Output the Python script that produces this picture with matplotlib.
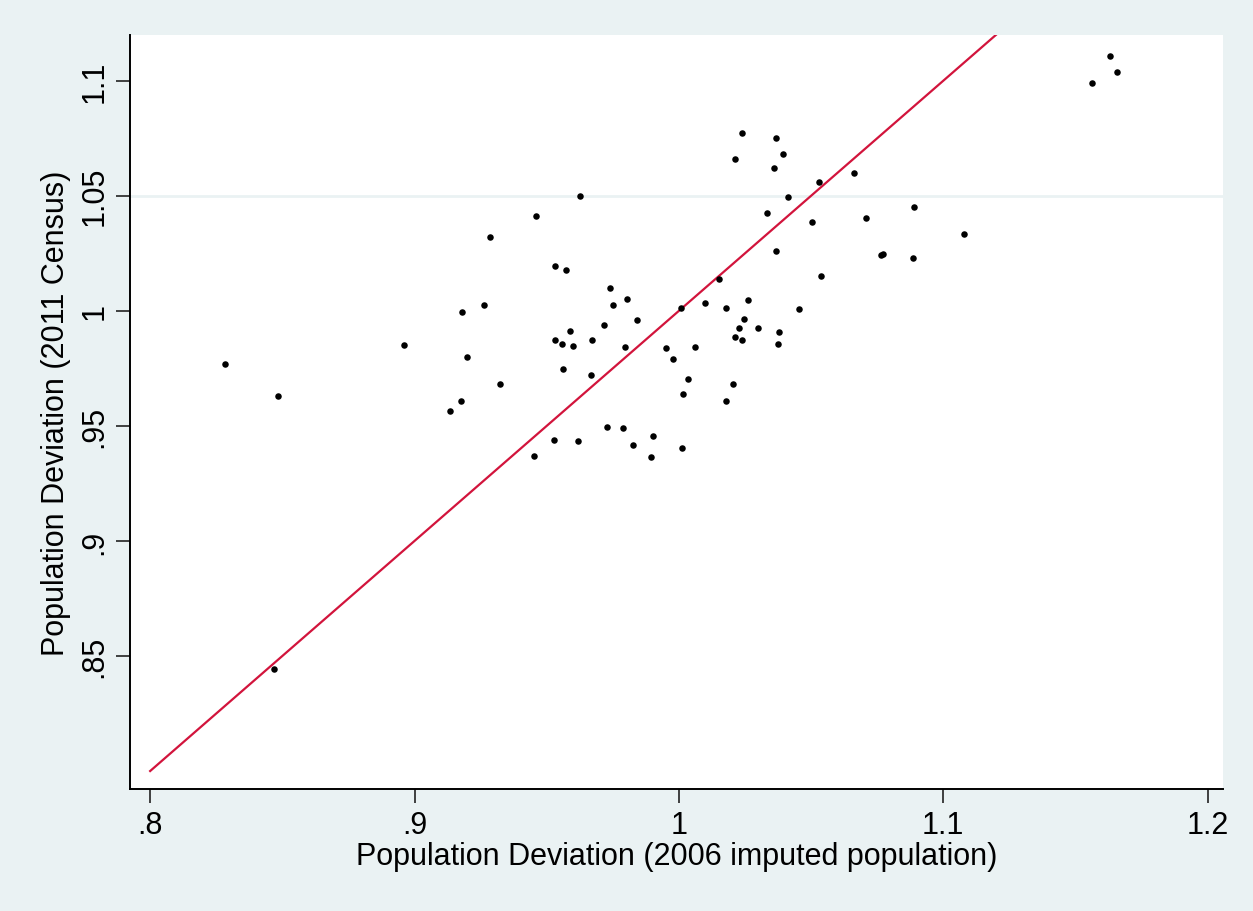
import matplotlib.pyplot as plt

# population deviation, 2006 imputed (x) vs 2011 census (y)
dev_2006 = [
    0.8284, 0.8485, 0.847, 0.8962, 0.918, 0.9264, 0.9287, 0.9458, 0.920,
    0.9323, 0.9176, 0.9134, 0.9453,
    1.024, 1.0367, 1.0395, 1.0214, 1.036, 1.0663, 1.053, 0.9626, 1.0414,
    1.089, 1.0335, 1.0708, 1.0503, 1.0772, 1.0764, 1.0369, 1.0885, 0.953,
    0.9574, 1.0539, 1.0153, 0.974, 0.9804, 0.975, 1.0262, 1.010, 1.0009,
    1.018, 1.0454, 0.984, 0.9716, 1.0246, 1.0228, 1.030, 0.9587, 1.0378,
    0.953, 0.9558, 0.9598, 0.9671, 1.0212, 1.0237, 1.0375, 0.9796, 0.9953,
    1.006,
    0.9976, 0.9561, 0.9667, 1.0035, 1.0205, 1.0016, 1.018, 0.9729, 0.9789,
    0.9526, 0.9618, 0.9903, 0.9827, 0.9893, 1.0013,
    1.163, 1.1656, 1.1561, 1.108,
]
dev_2011 = [
    0.9768, 0.9629, 0.8443, 0.985, 0.9993, 1.0025, 1.0319, 1.0414, 0.980,
    0.9684, 0.9607, 0.9564, 0.9368,
    1.0775, 1.0752, 1.068, 1.0662, 1.062, 1.060, 1.0558, 1.0501, 1.0497,
    1.045, 1.0426, 1.0403, 1.0386, 1.0248, 1.0241, 1.0258, 1.0229, 1.0197,
    1.0178, 1.0152, 1.014, 1.0101, 1.0051, 1.0025, 1.0047, 1.0033, 1.0012,
    1.0014, 1.0006, 0.9961, 0.9939, 0.9964, 0.9927, 0.9927, 0.9912, 0.9907,
    0.9873, 0.9858, 0.9847, 0.9874, 0.9888, 0.9873, 0.9857, 0.9843, 0.9839,
    0.9843,
    0.9791, 0.9749, 0.972, 0.9703, 0.968, 0.9639, 0.9607, 0.9494, 0.9491,
    0.9439, 0.9436, 0.9455, 0.9417, 0.9364, 0.9404,
    1.1109, 1.1038, 1.099, 1.0333,
]

x_ticks = [0.8, 0.9, 1.0, 1.1, 1.2]
x_labels = ['.8', '.9', '1', '1.1', '1.2']
y_ticks = [0.85, 0.9, 0.95, 1.0, 1.05, 1.1]
y_labels = ['.85', '.9', '.95', '1', '1.05', '1.1']
line_range = [0.8, 1.2]

plt.rcParams['font.family'] = ['Liberation Sans', 'DejaVu Sans']

fig = plt.figure(figsize=(12.53, 9.12), dpi=100, facecolor='#EAF2F3')
ax = fig.add_axes([0.1038, 0.1338, 0.872, 0.827])
ax.set_facecolor('white')

ax.axhline(1.05, color='#EAF2F3', lw=2, zorder=0)
ax.scatter(dev_2006, dev_2011, s=22, color='black', zorder=3, linewidths=0)
ax.plot(line_range, line_range, color='#D2143C', lw=1.6, zorder=2)

ax.set_xlim(0.7924, 1.2057)
ax.set_ylim(0.7922, 1.12)
ax.set_xticks(x_ticks, x_labels)
ax.set_yticks(y_ticks, y_labels)
for lab in ax.get_yticklabels():
    lab.set_rotation(90)
    lab.set_va('center')
ax.tick_params(labelsize=22, length=10, width=1.2, color='#222222', pad=5)

for side in ['top', 'right']:
    ax.spines[side].set_visible(False)
for side in ['left', 'bottom']:
    ax.spines[side].set_linewidth(1.4)

ax.set_xlabel('Population Deviation (2006 imputed population)', fontsize=22, labelpad=1)
ax.set_ylabel('Population Deviation (2011 Census)', fontsize=22, labelpad=6)

fig.savefig('out.png', dpi=100, facecolor=fig.get_facecolor())
